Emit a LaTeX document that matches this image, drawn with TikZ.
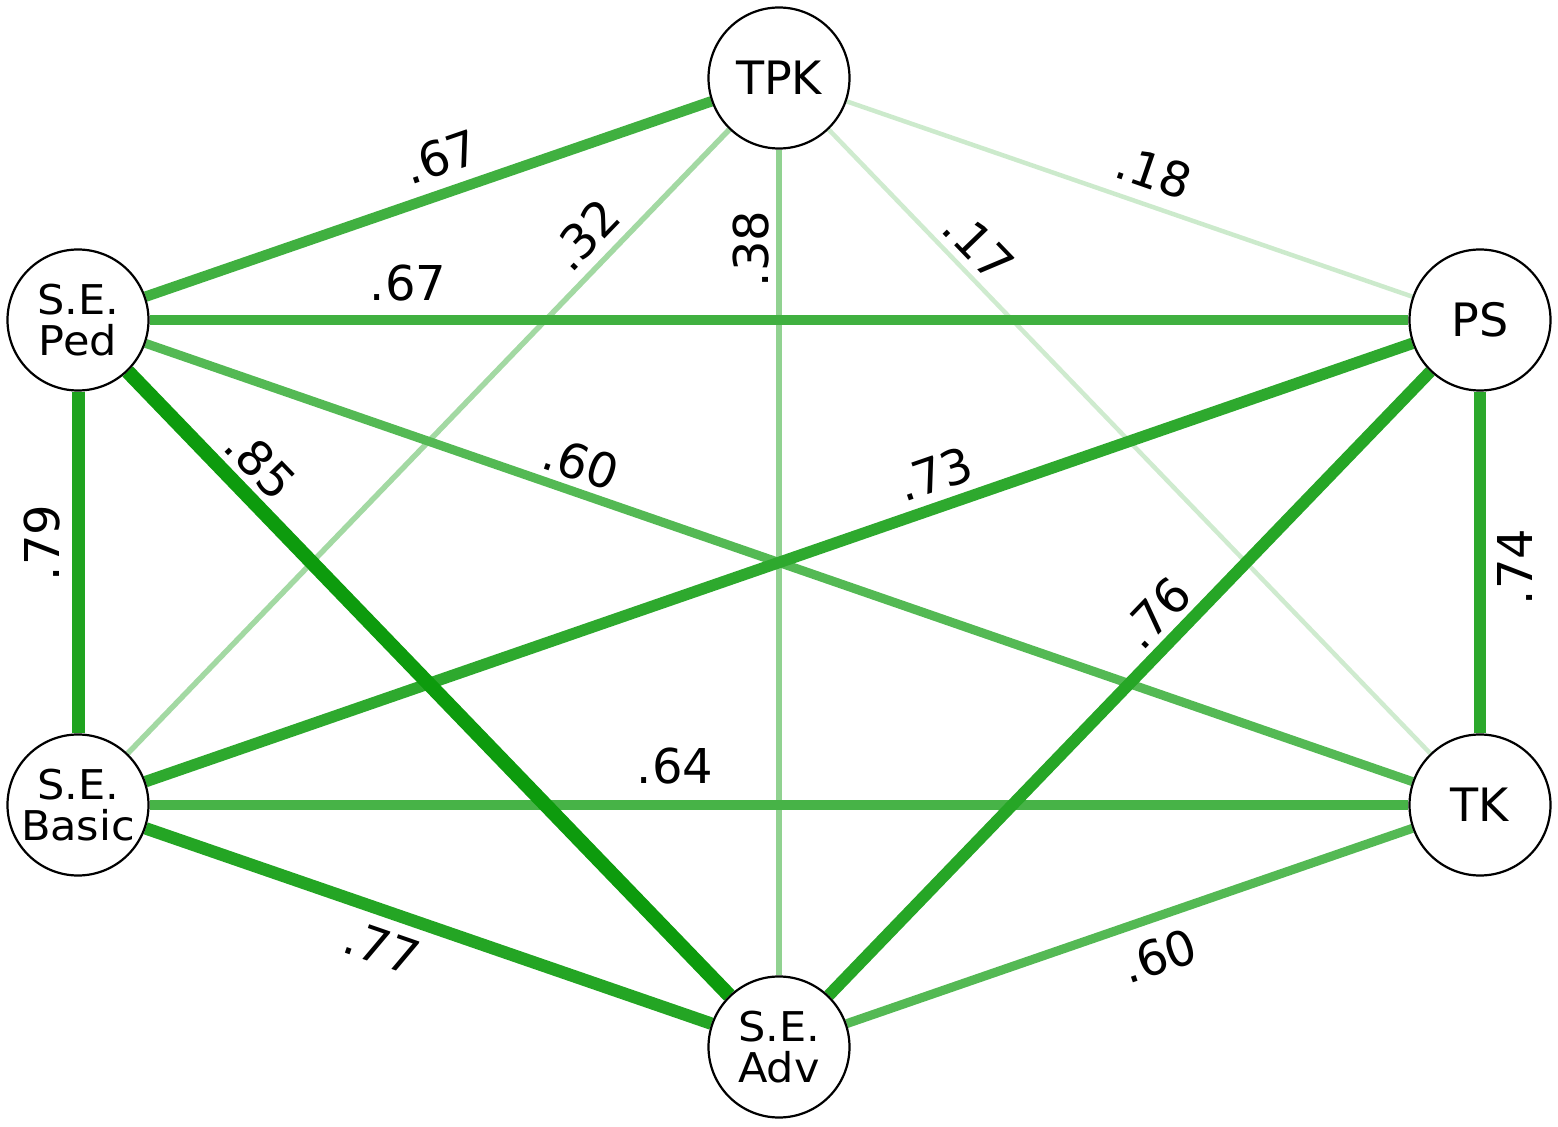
\documentclass[tikz,border=0pt]{standalone}
\usepackage{fontspec}
\setmainfont{DejaVu Sans}
\usetikzlibrary{backgrounds}
\definecolor{gbase}{RGB}{0,150,0}
\begin{document}
\begin{tikzpicture}[x=0.5pt,y=-0.5pt,
  nd/.style={circle, draw=black, line width=1.1pt, fill=white, minimum size=70.5pt, inner sep=0pt, align=center},
  big/.style={font=\fontsize{23}{25}\selectfont},
  two/.style={font=\fontsize{20.5}{20.5}\selectfont\addfontfeature{FakeStretch=1.05}},
  lab/.style={font=\fontsize{24}{26}\selectfont, inner sep=0pt},
  e/.style 2 args={line width=#1, draw=gbase!#2!white},
]
\useasboundingbox (0,0) rectangle (1558,1127);
% nodes
\node[nd,big] (tpk) at (779,78) {TPK};
\node[nd,two] (ped) at (78,320) {S.E.\\Ped};
\node[nd,big] (ps) at (1480,320) {PS};
\node[nd,two] (basic) at (78,805) {S.E.\\Basic};
\node[nd,big] (tk) at (1480,805) {TK};
\node[nd,two] (adv) at (779,1047) {S.E.\\Adv};
% edges
\begin{scope}[on background layer]
\draw[e={2.25pt}{19}] (tpk) -- (tk);
\draw[e={2.25pt}{20}] (tpk) -- (ps);
\draw[e={2.75pt}{36}] (tpk) -- (basic);
\draw[e={3pt}{43}] (tpk) -- (adv);
\draw[e={4.5pt}{67}] (ped) -- (tk);
\draw[e={4.5pt}{67}] (adv) -- (tk);
\draw[e={5pt}{72}] (basic) -- (tk);
\draw[e={5.25pt}{75}] (ped) -- (tpk);
\draw[e={5.25pt}{75}] (ped) -- (ps);
\draw[e={5.75pt}{82}] (basic) -- (ps);
\draw[e={6pt}{83}] (ps) -- (tk);
\draw[e={6pt}{85}] (adv) -- (ps);
\draw[e={6.25pt}{86}] (basic) -- (adv);
\draw[e={6.5pt}{88}] (ped) -- (basic);
\draw[e={7.25pt}{95}] (ped) -- (adv);
\end{scope}
% labels
\node[lab, rotate=19.05] (l1) at (441,157) {.67};
\node[lab] (l2) at (408,283) {.67};
\node[lab, rotate=46.04] (l3) at (585,235) {.32};
\node[lab, rotate=90] (l4) at (751,249) {.38};
\node[lab, rotate=-46.04] (l5) at (979,246) {.17};
\node[lab, rotate=-19.05] (l6) at (1154,172) {.18};
\node[lab, rotate=-46.04] (l7) at (261,464) {.85};
\node[lab, rotate=-19.05] (l8) at (581,463) {.60};
\node[lab, rotate=19.05] (l9) at (935,474) {.73};
\node[lab, rotate=90] (l10) at (42,543) {.79};
\node[lab, rotate=46.04] (l11) at (1156,613) {.76};
\node[lab, rotate=90] (l12) at (1515,567) {.74};
\node[lab] (l13) at (675,766) {.64};
\node[lab, rotate=-19.05] (l14) at (382,947) {.77};
\node[lab, rotate=19.05] (l15) at (1159,956) {.60};
\end{tikzpicture}
\end{document}
